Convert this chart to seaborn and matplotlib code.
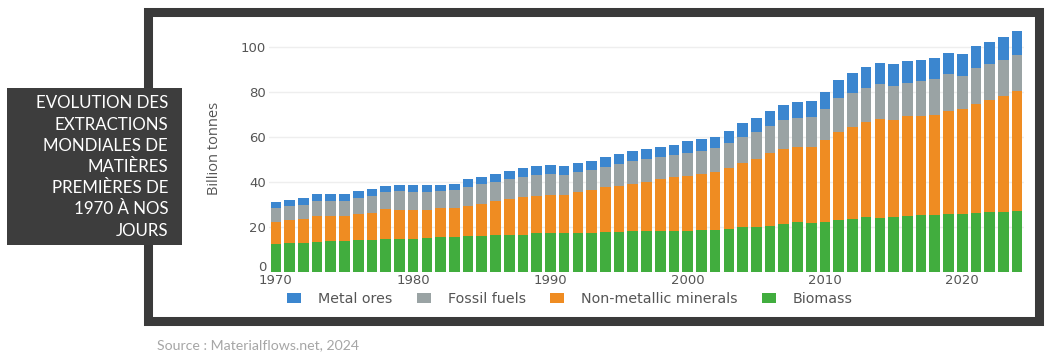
import matplotlib
matplotlib.use('Agg')
import numpy as np
import pandas as pd
import seaborn as sns
import matplotlib.pyplot as plt
import matplotlib.transforms as mtransforms
from matplotlib.patches import Rectangle

# values, billion tonnes
years = list(range(1970, 2025))
categories = ['Metal ores', 'Fossil fuels', 'Non-metallic minerals', 'Biomass']
biomass = [12.3, 12.6, 12.6, 13.2, 13.6, 13.6, 14.1, 14.1, 14.5, 14.5,
           14.5, 14.8, 15.3, 15.3, 15.7, 16.0, 16.1, 16.1, 16.1, 17.0,
           17.0, 17.0, 17.0, 17.0, 17.5, 17.6, 17.9, 18.1, 18.2, 18.2,
           18.2, 18.5, 18.5, 19.1, 20.0, 20.0, 20.4, 21.2, 21.9, 21.5,
           21.9, 23.0, 23.3, 24.1, 24.0, 24.4, 24.7, 25.3, 25.3, 25.6,
           25.6, 26.2, 26.7, 26.7, 27.1]
non_metallic = [9.6, 10.4, 10.7, 11.5, 11.3, 11.1, 11.4, 12.1, 13.2, 13.1,
                13.1, 12.8, 12.8, 13.1, 13.5, 14.2, 15.3, 16.3, 17.1, 16.6,
                17.1, 17.1, 18.6, 19.3, 20.0, 20.6, 21.1, 21.9, 22.8, 23.7,
                24.5, 24.9, 25.9, 26.8, 28.4, 30.2, 32.2, 33.3, 33.4, 34.1,
                36.6, 39.2, 41.1, 42.6, 44.0, 43.0, 44.6, 43.9, 44.3, 46.0,
                46.5, 48.2, 49.6, 51.4, 53.3]
fossil = [6.5, 6.3, 6.5, 6.7, 6.5, 6.7, 7.2, 7.4, 7.7, 8.1,
          8.0, 7.8, 7.6, 7.9, 8.4, 8.6, 8.6, 8.8, 9.0, 9.5,
          9.3, 8.9, 8.7, 8.9, 9.2, 9.7, 10.0, 10.2, 10.1, 10.0,
          10.2, 10.4, 10.4, 11.1, 11.6, 12.0, 12.3, 12.9, 13.1, 13.3,
          13.8, 14.8, 14.9, 14.9, 15.4, 15.3, 14.4, 15.4, 16.2, 16.1,
          15.0, 16.0, 15.8, 16.0, 15.9]
metal = [2.6, 2.6, 2.9, 3.1, 3.1, 3.1, 3.0, 3.1, 2.7, 2.8,
         2.9, 3.1, 2.8, 2.8, 3.4, 3.1, 3.3, 3.4, 4.0, 4.0,
         4.2, 4.1, 4.1, 4.1, 4.3, 4.4, 4.5, 4.3, 4.2, 4.5,
         5.0, 5.0, 5.2, 5.4, 5.9, 6.2, 6.5, 6.7, 6.9, 6.8,
         7.7, 8.2, 8.8, 9.5, 9.2, 9.7, 10.1, 9.5, 9.0, 9.3,
         9.6, 9.9, 10.1, 10.3, 10.8]
colors = ['#3b86cf', '#9aa3a4', '#ef8c22', '#41ad3e']

df = pd.DataFrame({
    'year': years * 4,
    'material': np.repeat(categories, len(years)),
    'value': metal + fossil + non_metallic + biomass,
})

sns.set_style('white')
plt.rcParams['font.family'] = ['DejaVu Sans']

fig = plt.figure(figsize=(10.55, 3.64), dpi=100)
W, H = 1055, 364
ax = fig.add_axes([269 / W, 1 - 271.7 / H, 755 / W, 244.1 / H])

sns.histplot(data=df, x='year', weights='value', hue='material',
             hue_order=categories, multiple='stack', discrete=True,
             shrink=0.78, palette=colors, alpha=1, linewidth=0, ax=ax)

ax.set_xlim(1969.5, 2024.5)
ax.set_ylim(0, 108.5)
ax.set_xticks([1970, 1980, 1990, 2000, 2010, 2020])
ax.set_yticks([0, 20, 40, 60, 80, 100])
ax.set_xlabel('')
ax.set_ylabel('')
ax.tick_params(length=0, labelsize=9.5, labelcolor='#555555', pad=2)
ax.yaxis.grid(True, color='#eeeeee', lw=1)
ax.set_axisbelow(True)
sns.despine(ax=ax, left=True, bottom=True)

# the "0" sits a little above the baseline, as in the original
zero_lab = ax.get_yticklabels()[0]
zero_lab.set_transform(zero_lab.get_transform() +
                       mtransforms.ScaledTranslation(0, 4 / 72, fig.dpi_scale_trans))

sns.move_legend(ax, loc='center', bbox_to_anchor=(570 / W, 1 - 299 / H),
                bbox_transform=fig.transFigure, ncol=4, frameon=False,
                title=None, fontsize=10.3, handlelength=0.98, handleheight=0.7,
                handletextpad=1.19, columnspacing=1.68)
for t in ax.get_legend().get_texts():
    t.set_color('#555555')

fig.text(215 / W, 1 - 148 / H, 'Billion tonnes', rotation=90, ha='center',
         va='center', fontsize=10.5, color='#555555', family='Open Sans')

# dark frame round the chart and the title box on the left
fig.patches.append(Rectangle((147.5 / W, 1 - 320.5 / H), 891 / W, 309 / H,
                             transform=fig.transFigure, fill=False,
                             edgecolor='#3a3a3a', lw=6.5, zorder=1))
fig.patches.append(Rectangle((7 / W, 1 - 245 / H), 175 / W, 157 / H,
                             transform=fig.transFigure, facecolor='#3d3d3d',
                             edgecolor='none', zorder=2))
fig.text(168 / W, 1 - 167 / H,
         'EVOLUTION DES\nEXTRACTIONS\nMONDIALES DE\nMATIÈRES\nPREMIÈRES DE\n1970 À NOS\nJOURS',
         ha='right', va='center', multialignment='right', color='white',
         family='Lato', fontsize=12.2, linespacing=1.4, zorder=3)

fig.text(157 / W, 1 - 345 / H, 'Source : Materialflows.net, 2024',
         ha='left', va='center', color='#a6a6a6', family='Lato', fontsize=10.2)

fig.savefig('out.png', dpi=100)
